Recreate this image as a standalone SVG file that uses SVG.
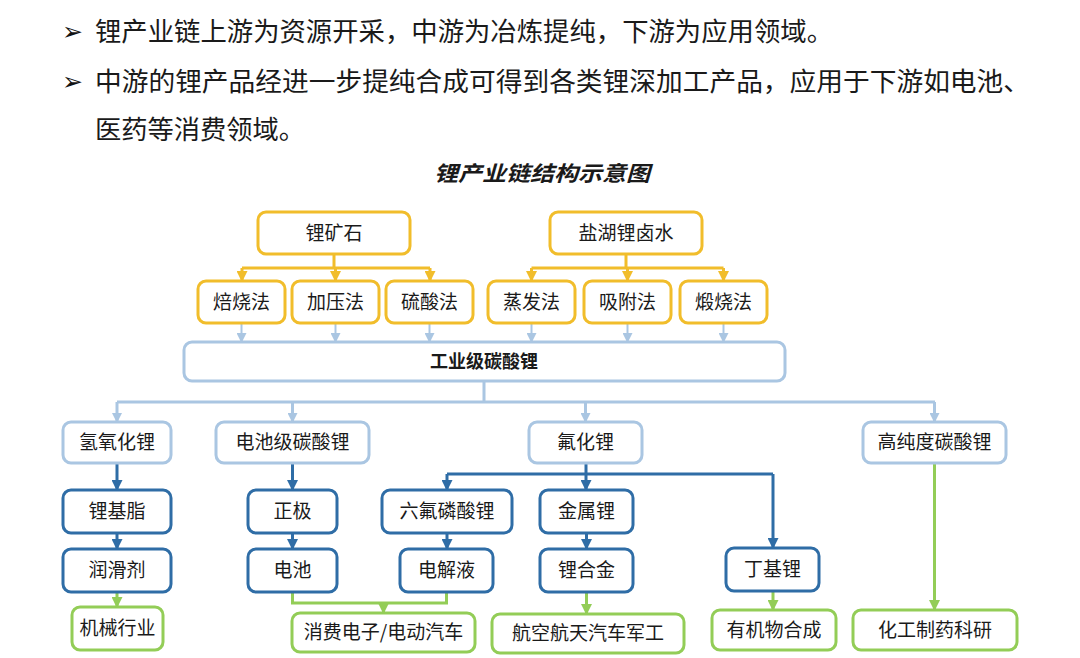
<svg xmlns="http://www.w3.org/2000/svg" width="1080" height="658" viewBox="0 0 1080 658">
<defs>
<style>
text{font-family:"Noto Sans CJK SC","Noto Sans",sans-serif;fill:#1a1a1a;}
.lbl{font-size:19px;text-anchor:middle;}
.bul{font-size:26px;}
.arr{font-family:"DejaVu Sans",sans-serif;font-size:25px;fill:#111;}
.y rect{fill:#fff;stroke:#F1BD2B;stroke-width:3;}
.lb rect{fill:#fff;stroke:#AAC6E2;stroke-width:3;}
.db rect{fill:#fff;stroke:#2F6DA6;stroke-width:3;}
.g rect{fill:#fff;stroke:#93CD57;stroke-width:3;}
.cy{fill:none;stroke:#F1BD2B;stroke-width:3;}
.clb{fill:none;stroke:#AAC6E2;stroke-width:3;}
.clb2{fill:none;stroke:#AAC6E2;stroke-width:2;}
.cdb{fill:none;stroke:#2F6DA6;stroke-width:3;}
.cg{fill:none;stroke:#93CD57;stroke-width:3;}
</style>
<marker id="ay" viewBox="0 0 10 10" refX="9" refY="5" markerWidth="11" markerHeight="11" markerUnits="userSpaceOnUse" orient="auto"><path d="M0,0 L10,5 L0,10 z" fill="#F1BD2B"/></marker>
<marker id="alb" viewBox="0 0 10 10" refX="9" refY="5" markerWidth="10" markerHeight="10" markerUnits="userSpaceOnUse" orient="auto"><path d="M0,0 L10,5 L0,10 z" fill="#AAC6E2"/></marker>
<marker id="adb" viewBox="0 0 10 10" refX="9" refY="5" markerWidth="11" markerHeight="11" markerUnits="userSpaceOnUse" orient="auto"><path d="M0,0 L10,5 L0,10 z" fill="#2F6DA6"/></marker>
<marker id="ag" viewBox="0 0 10 10" refX="9" refY="5" markerWidth="11" markerHeight="11" markerUnits="userSpaceOnUse" orient="auto"><path d="M0,0 L10,5 L0,10 z" fill="#93CD57"/></marker>
</defs>
<rect width="1080" height="658" fill="#ffffff"/>

<g id="intro">
<text class="arr" x="62" y="40">➢</text>
<text class="bul" x="95" y="41" textLength="738" lengthAdjust="spacingAndGlyphs">锂产业链上游为资源开采，中游为冶炼提纯，下游为应用领域。</text>
<text class="arr" x="62" y="90">➢</text>
<text class="bul" x="95" y="91" textLength="935" lengthAdjust="spacingAndGlyphs">中游的锂产品经进一步提纯合成可得到各类锂深加工产品，应用于下游如电池、</text>
<text class="bul" x="95" y="139" textLength="210" lengthAdjust="spacingAndGlyphs">医药等消费领域。</text>
</g>
<g id="title">
<text x="542" y="181" text-anchor="middle" style="font-size:21px;font-weight:bold;font-style:italic;" textLength="216" lengthAdjust="spacingAndGlyphs">锂产业链结构示意图</text>
</g>

<g id="connectors">
<path class="cy" d="M334,254 V268 M242,268 H430"/>
<path class="cy" marker-end="url(#ay)" d="M242,268 V281"/>
<path class="cy" marker-end="url(#ay)" d="M335.5,268 V281"/>
<path class="cy" marker-end="url(#ay)" d="M430,268 V281"/>
<path class="cy" d="M626,254 V268 M531.5,268 H723.5"/>
<path class="cy" marker-end="url(#ay)" d="M531.5,268 V281"/>
<path class="cy" marker-end="url(#ay)" d="M627.5,268 V281"/>
<path class="cy" marker-end="url(#ay)" d="M723.5,268 V281"/>
<path class="clb2" marker-end="url(#alb)" d="M241.5,324 V342"/>
<path class="clb2" marker-end="url(#alb)" d="M335.5,324 V342"/>
<path class="clb2" marker-end="url(#alb)" d="M429.5,324 V342"/>
<path class="clb2" marker-end="url(#alb)" d="M531.5,324 V342"/>
<path class="clb2" marker-end="url(#alb)" d="M627.5,324 V342"/>
<path class="clb2" marker-end="url(#alb)" d="M723.5,324 V342"/>
<path class="clb" d="M484,381 V402 M117,402 H935"/>
<path class="clb" marker-end="url(#alb)" d="M117,402 V422"/>
<path class="clb" marker-end="url(#alb)" d="M292.5,402 V422"/>
<path class="clb" marker-end="url(#alb)" d="M585.5,402 V422"/>
<path class="clb" marker-end="url(#alb)" d="M934.5,402 V422"/>
<path class="cdb" marker-end="url(#adb)" d="M117,463 V490"/>
<path class="cdb" marker-end="url(#adb)" d="M117,533 V549"/>
<path class="cdb" marker-end="url(#adb)" d="M292.5,463 V490"/>
<path class="cdb" marker-end="url(#adb)" d="M292.5,533 V549"/>
<path class="cdb" d="M447,474 H773"/>
<path class="cdb" marker-end="url(#adb)" d="M586,463 V490"/>
<path class="cdb" marker-end="url(#adb)" d="M447,474 V490"/>
<path class="cdb" marker-end="url(#adb)" d="M773,474 V548"/>
<path class="cdb" marker-end="url(#adb)" d="M447,533 V549"/>
<path class="cdb" marker-end="url(#adb)" d="M586.5,533 V549"/>
<path class="cg" marker-end="url(#ag)" d="M117,592 V607"/>
<path class="cg" d="M292.5,592 V603 H446.5 V592"/>
<path class="cg" marker-end="url(#ag)" d="M383.5,603 V613"/>
<path class="cg" marker-end="url(#ag)" d="M586.5,592 V614"/>
<path class="cg" marker-end="url(#ag)" d="M773,591 V610"/>
<path class="cg" marker-end="url(#ag)" d="M934.5,463 V610"/>
</g>

<g id="n-ore" class="y"><rect x="258" y="212" width="152" height="42" rx="8"/><text class="lbl" x="334" y="240">锂矿石</text></g>
<g id="n-brine" class="y"><rect x="550" y="212" width="152" height="42" rx="8"/><text class="lbl" x="626" y="240">盐湖锂卤水</text></g>
<g id="n-roast" class="y"><rect x="198" y="281" width="87" height="42" rx="8"/><text class="lbl" x="241.5" y="309">焙烧法</text></g>
<g id="n-press" class="y"><rect x="292" y="281" width="87" height="42" rx="8"/><text class="lbl" x="335.5" y="309">加压法</text></g>
<g id="n-acid" class="y"><rect x="386" y="281" width="87" height="42" rx="8"/><text class="lbl" x="429.5" y="309">硫酸法</text></g>
<g id="n-evap" class="y"><rect x="488" y="281" width="87" height="42" rx="8"/><text class="lbl" x="531.5" y="309">蒸发法</text></g>
<g id="n-adsorb" class="y"><rect x="584" y="281" width="87" height="42" rx="8"/><text class="lbl" x="627.5" y="309">吸附法</text></g>
<g id="n-calc" class="y"><rect x="680" y="281" width="87" height="42" rx="8"/><text class="lbl" x="723.5" y="309">煅烧法</text></g>

<g id="n-industrial" class="lb"><rect x="184" y="342" width="601" height="39" rx="8"/><text class="lbl" x="484" y="368" style="font-size:18px;font-weight:bold;">工业级碳酸锂</text></g>

<g id="n-lioh" class="lb"><rect x="63" y="422" width="108" height="41" rx="8"/><text class="lbl" x="117" y="449">氢氧化锂</text></g>
<g id="n-battcarb" class="lb"><rect x="216" y="422" width="153" height="41" rx="8"/><text class="lbl" x="292.5" y="449">电池级碳酸锂</text></g>
<g id="n-lif" class="lb"><rect x="529" y="422" width="113" height="41" rx="8"/><text class="lbl" x="585.5" y="449">氟化锂</text></g>
<g id="n-highpure" class="lb"><rect x="863" y="422" width="143" height="41" rx="8"/><text class="lbl" x="934.5" y="449">高纯度碳酸锂</text></g>

<g id="n-grease" class="db"><rect x="63" y="490" width="108" height="43" rx="8"/><text class="lbl" x="117" y="518">锂基脂</text></g>
<g id="n-cathode" class="db"><rect x="248" y="490" width="89" height="43" rx="8"/><text class="lbl" x="292.5" y="518">正极</text></g>
<g id="n-lipf6" class="db"><rect x="382" y="490" width="130" height="43" rx="8"/><text class="lbl" x="447" y="518">六氟磷酸锂</text></g>
<g id="n-metal" class="db"><rect x="540" y="490" width="93" height="43" rx="8"/><text class="lbl" x="586.5" y="518">金属锂</text></g>
<g id="n-lube" class="db"><rect x="63" y="549" width="108" height="43" rx="8"/><text class="lbl" x="117" y="577">润滑剂</text></g>
<g id="n-battery" class="db"><rect x="248" y="549" width="89" height="43" rx="8"/><text class="lbl" x="292.5" y="577">电池</text></g>
<g id="n-electrolyte" class="db"><rect x="400" y="549" width="93" height="43" rx="8"/><text class="lbl" x="446.5" y="577">电解液</text></g>
<g id="n-alloy" class="db"><rect x="540" y="549" width="93" height="43" rx="8"/><text class="lbl" x="586.5" y="577">锂合金</text></g>
<g id="n-butyl" class="db"><rect x="726" y="548" width="93" height="43" rx="8"/><text class="lbl" x="772.5" y="576">丁基锂</text></g>

<g id="n-mech" class="g"><rect x="72" y="607" width="91" height="43" rx="8"/><text class="lbl" x="117.5" y="635">机械行业</text></g>
<g id="n-consumer" class="g"><rect x="292" y="613" width="183" height="39" rx="8"/><text class="lbl" x="383.5" y="639">消费电子/电动汽车</text></g>
<g id="n-aero" class="g"><rect x="492" y="614" width="192" height="39" rx="8"/><text class="lbl" x="588" y="640">航空航天汽车军工</text></g>
<g id="n-organic" class="g"><rect x="712" y="610" width="124" height="40" rx="8"/><text class="lbl" x="774" y="637">有机物合成</text></g>
<g id="n-pharma" class="g"><rect x="853" y="610" width="164" height="40" rx="8"/><text class="lbl" x="935" y="637">化工制药科研</text></g>
</svg>
